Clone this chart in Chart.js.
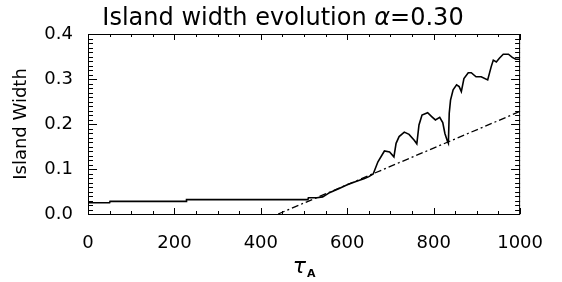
<!DOCTYPE html>
<html>
<head>
<meta charset="utf-8">
<script src="https://cdn.jsdelivr.net/npm/chart.js@4/dist/chart.umd.min.js"></script>
<style>
  html, body { margin: 0; padding: 0; background: #ffffff; }
  #wrap { width: 562px; height: 282px; }
</style>
</head>
<body>
<div id="wrap"><canvas id="c" width="562" height="282"></canvas></div>
<script>
// ---- data ----
const titleParts = ['Island width evolution ', '\u03b1', '=0.30'];
const yAxisTitle = 'Island Width';
const xAxisSymbol = '\u03c4';
const xAxisSub = 'A';

// solid curve: island width vs tau_A
const tauValues = [0, 50, 51, 227, 228, 509, 510, 530, 543, 560, 580, 600, 620, 640, 650, 660,
  671, 686, 698, 708, 713, 720, 732, 743, 755, 761, 766, 773, 786, 796, 804, 814, 821, 826,
  832, 834, 836, 839, 845, 853, 859, 864, 870, 880, 887, 898, 910, 925, 933, 938, 945, 952,
  961, 973, 982, 990, 1000];
const widthValues = [0.025, 0.025, 0.028, 0.028, 0.032, 0.032, 0.036, 0.036, 0.038, 0.048,
  0.056, 0.065, 0.072, 0.079, 0.083, 0.089, 0.116, 0.140, 0.138, 0.127, 0.157, 0.172, 0.182,
  0.177, 0.164, 0.156, 0.198, 0.220, 0.225, 0.216, 0.209, 0.215, 0.203, 0.179, 0.161, 0.157,
  0.224, 0.253, 0.276, 0.287, 0.283, 0.272, 0.301, 0.314, 0.314, 0.305, 0.305, 0.298, 0.327,
  0.342, 0.338, 0.346, 0.355, 0.355, 0.348, 0.344, 0.344];

// dash-dot reference line (end points)
const fitTau = [440, 1000];
const fitWidth = [0.0, 0.228];

// axis ticks
const xMin = 0, xMax = 1000, xMajorStep = 200, xMinorStep = 50;
const yMin = 0, yMax = 0.4, yMajorStep = 0.1, yMinorStep = 0.01;

// ---- build datasets ----
const solidPts = tauValues.map((t, i) => ({ x: t, y: widthValues[i] }));
const fitPts = fitTau.map((t, i) => ({ x: t, y: fitWidth[i] }));

const FONT = "'DejaVu Sans', sans-serif";

const framePlugin = {
  id: 'frame',
  afterDraw(chart) {
    const { ctx, chartArea: a, scales: { x, y } } = chart;
    ctx.save();
    ctx.strokeStyle = '#000';
    ctx.lineWidth = 1;
    ctx.strokeRect(a.left + 0.5, a.top + 0.5, a.right - a.left - 1, a.bottom - a.top);
    ctx.beginPath();
    const nx = Math.round((xMax - xMin) / xMinorStep);
    for (let i = 0; i <= nx; i++) {
      const v = xMin + i * xMinorStep;
      const major = Math.abs(v / xMajorStep - Math.round(v / xMajorStep)) < 1e-6;
      const len = major ? 6 : 3;
      const px = Math.round(x.getPixelForValue(v)) + 0.5;
      ctx.moveTo(px, a.bottom); ctx.lineTo(px, a.bottom - len);
      ctx.moveTo(px, a.top); ctx.lineTo(px, a.top + len);
    }
    const ny = Math.round((yMax - yMin) / yMinorStep);
    for (let i = 0; i <= ny; i++) {
      const v = yMin + i * yMinorStep;
      const major = Math.abs(v / yMajorStep - Math.round(v / yMajorStep)) < 1e-6;
      const len = major ? 9 : 5;
      const py = Math.round(y.getPixelForValue(v)) + 0.5;
      ctx.moveTo(a.left, py); ctx.lineTo(a.left + len, py);
      ctx.moveTo(a.right, py); ctx.lineTo(a.right - len, py);
    }
    ctx.stroke();

    ctx.fillStyle = '#000';
    ctx.textBaseline = 'alphabetic';
    ctx.textAlign = 'left';

    // chart title with italic alpha
    const fonts = ["24px " + FONT, "italic 24px " + FONT, "24px " + FONT];
    const widths = titleParts.map((p, i) => { ctx.font = fonts[i]; return ctx.measureText(p).width; });
    const total = widths.reduce((s, w) => s + w, 0);
    let tx = chart.width / 2 + 2 - total / 2;
    titleParts.forEach((p, i) => { ctx.font = fonts[i]; ctx.fillText(p, tx, 25); tx += widths[i]; });

    // x-axis title: tau with subscript A
    const cx = (a.left + a.right) / 2;
    ctx.font = "italic 22px " + FONT;
    const tw = ctx.measureText(xAxisSymbol).width;
    ctx.font = "bold 11px " + FONT;
    const sw = ctx.measureText(xAxisSub).width;
    const start = cx - (tw + sw + 1) / 2;
    ctx.font = "italic 22px " + FONT;
    ctx.fillText(xAxisSymbol, start, 273);
    ctx.font = "bold 11px " + FONT;
    ctx.fillText(xAxisSub, start + tw + 1, 277);
    ctx.restore();
  }
};

new Chart(document.getElementById('c'), {
  type: 'scatter',
  data: {
    datasets: [
      {
        label: 'island width',
        data: solidPts,
        showLine: true,
        borderColor: '#000',
        borderWidth: 1.6,
        pointRadius: 0,
        tension: 0
      },
      {
        label: 'linear',
        data: fitPts,
        showLine: true,
        borderColor: '#000',
        borderWidth: 1.3,
        borderDash: [7, 3, 2, 3],
        pointRadius: 0,
        tension: 0
      }
    ]
  },
  plugins: [framePlugin],
  options: {
    responsive: false,
    animation: false,
    events: [],
    layout: { padding: { left: 0, right: 34, top: 34, bottom: 0 } },
    plugins: {
      legend: { display: false },
      tooltip: { enabled: false },
      title: { display: false }
    },
    scales: {
      x: {
        type: 'linear',
        min: xMin, max: xMax,
        afterFit(s) { s.height = 68; },
        grid: { display: false, drawTicks: false },
        border: { display: false },
        ticks: {
          stepSize: xMajorStep,
          color: '#000',
          padding: 19,
          maxRotation: 0,
          font: { family: FONT, size: 18 },
          callback: v => String(v)
        }
      },
      y: {
        type: 'linear',
        min: yMin, max: yMax,
        afterFit(s) { s.width = 88; },
        grid: { display: false, drawTicks: false },
        border: { display: false },
        ticks: {
          stepSize: yMajorStep,
          color: '#000',
          padding: 15,
          font: { family: FONT, size: 18 },
          callback: v => Number(v).toFixed(1)
        },
        title: {
          display: true,
          text: yAxisTitle,
          color: '#000',
          font: { family: FONT, size: 18 },
          padding: { top: 11, bottom: 0 }
        }
      }
    }
  }
});
</script>
</body>
</html>
